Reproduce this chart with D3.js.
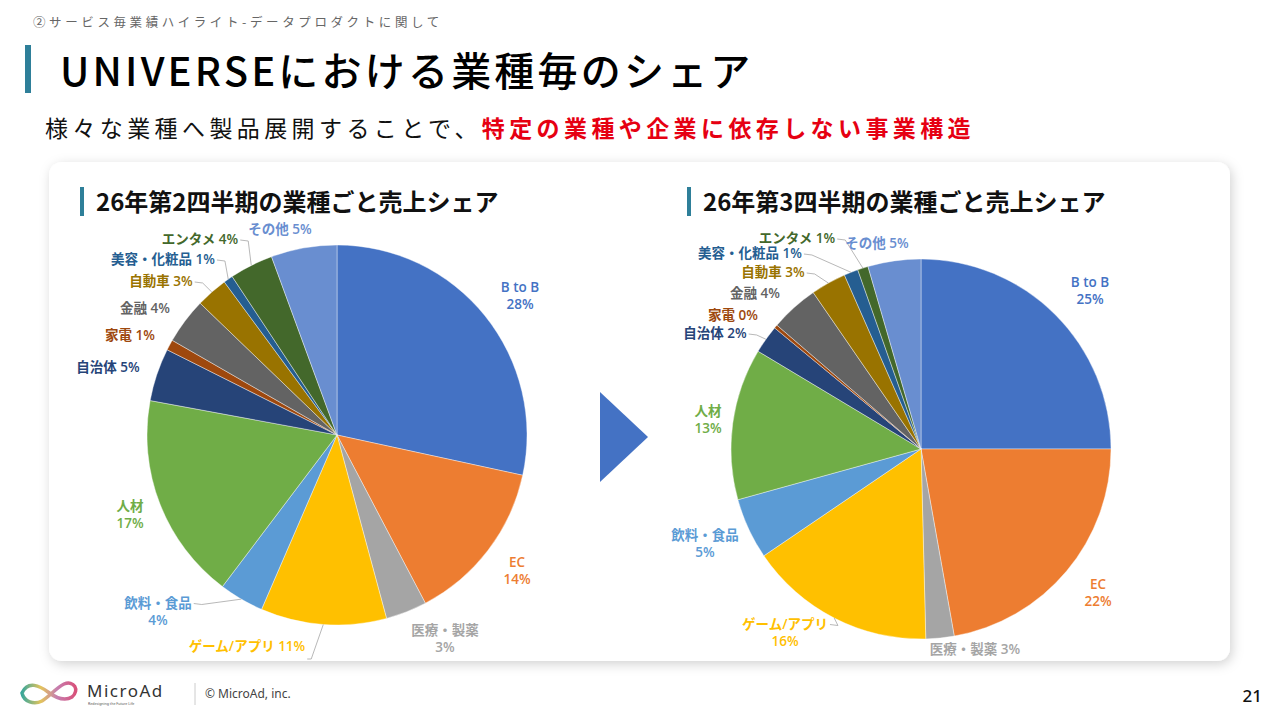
<!DOCTYPE html>
<html lang="ja">
<head>
<meta charset="UTF-8">
<title>UNIVERSE 業種毎のシェア</title>
<script src="https://cdn.jsdelivr.net/npm/d3@7"></script>
<style>
  html, body { margin: 0; padding: 0; background: #fff; }
  svg { display: block; font-family: "Noto Sans CJK JP", "Noto Sans", sans-serif; }
</style>
</head>
<body>
<div id="vis"></div>
<script>

// categories in clockwise order from 12 o'clock
var categories = ["B to B", "EC", "医療・製薬", "ゲーム/アプリ", "飲料・食品", "人材",
                  "自治体", "家電", "金融", "自動車", "美容・化粧品", "エンタメ", "その他"];

// shares (%)
var q2Values = [28.4, 13.9, 3.5, 10.7, 3.8, 17.6, 4.5, 0.9, 3.9, 2.7, 0.8, 3.7, 5.6];
var q3Values = [25.0, 22.2, 2.4, 15.9, 5.2, 12.9, 2.4, 0.3, 4.1, 3.0, 1.2, 0.9, 4.5];

// percentages as printed on the labels
var q2Pct = ["28%", "14%", "3%", "11%", "4%", "17%", "5%", "1%", "4%", "3%", "1%", "4%", "5%"];
var q3Pct = ["25%", "22%", "3%", "16%", "5%", "13%", "2%", "0%", "4%", "3%", "1%", "1%", "5%"];

var colors = ["#4472C4", "#ED7D31", "#A5A5A5", "#FFC000", "#5B9BD5", "#70AD47",
              "#264478", "#9E480E", "#636363", "#997300", "#255E91", "#43682B", "#698ED0"];

var width = 1280, height = 720;
var radius = 190;

// label placement (offset from pie centre, one/two lines, leader line)
var q2Layout = {
  cx: 337, cy: 435,
  labels: [
    {dx: 183, dy: -140, two: true},
    {dx: 180, dy: 135, two: true},
    {dx: 108, dy: 203, two: true},
    {dx: -90, dy: 211, leader: "up"},
    {dx: -179, dy: 176, two: true, leader: "line1"},
    {dx: -207, dy: 79, two: true},
    {dx: -229, dy: -68},
    {dx: -207, dy: -100},
    {dx: -192, dy: -127},
    {dx: -176, dy: -154, leader: "side"},
    {dx: -174, dy: -176, leader: "side"},
    {dx: -137, dy: -196, leader: "side"},
    {dx: -57, dy: -206}
  ]
};
var q3Layout = {
  cx: 921, cy: 449,
  labels: [
    {dx: 169, dy: -159, two: true},
    {dx: 177, dy: 143, two: true},
    {dx: 54, dy: 200},
    {dx: -136, dy: 183, two: true, leader: "line1"},
    {dx: -216, dy: 94, two: true},
    {dx: -213, dy: -30, two: true},
    {dx: -206, dy: -116, leader: "side"},
    {dx: -188, dy: -134},
    {dx: -166, dy: -156},
    {dx: -148, dy: -177, leader: "side"},
    {dx: -171, dy: -196, leader: "side"},
    {dx: -124, dy: -211, leader: "side"},
    {dx: -44, dy: -206}
  ]
};

var svg = d3.select("#vis").append("svg")
    .attr("width", width)
    .attr("height", height);

var defs = svg.append("defs");
var shadow = defs.append("filter").attr("id", "shadow")
    .attr("x", "-5%").attr("y", "-5%").attr("width", "110%").attr("height", "115%");
shadow.append("feDropShadow")
    .attr("dx", 2).attr("dy", 3).attr("stdDeviation", 6)
    .attr("flood-color", "#000").attr("flood-opacity", 0.18);

var grad = defs.append("linearGradient").attr("id", "logoGrad")
    .attr("x1", "0%").attr("x2", "100%").attr("y1", "0%").attr("y2", "0%");
grad.append("stop").attr("offset", "0%").attr("stop-color", "#3aa79a");
grad.append("stop").attr("offset", "35%").attr("stop-color", "#e3c45c");
grad.append("stop").attr("offset", "65%").attr("stop-color", "#c67fb0");
grad.append("stop").attr("offset", "100%").attr("stop-color", "#d8517a");

// ---- header
svg.append("text")
    .attr("x", 33).attr("y", 27)
    .attr("font-size", 12.5)
    .attr("letter-spacing", 3.6)
    .attr("fill", "#666")
    .text("②サービス毎業績ハイライト-データプロダクトに関して");

svg.append("rect")
    .attr("x", 25).attr("y", 45).attr("width", 6).attr("height", 48)
    .attr("fill", "#2E7F99");

svg.append("text")
    .attr("x", 60).attr("y", 86)
    .attr("font-size", 40)
    .attr("font-weight", 500)
    .attr("letter-spacing", 3.2)
    .attr("fill", "#000")
    .text("UNIVERSEにおける業種毎のシェア");

var sub = svg.append("text")
    .attr("x", 45).attr("y", 137)
    .attr("font-size", 23)
    .attr("letter-spacing", 4.4)
    .attr("fill", "#111");
sub.append("tspan").text("様々な業種へ製品展開することで、");
sub.append("tspan").attr("fill", "#E60012").attr("font-weight", 700)
    .text("特定の業種や企業に依存しない事業構造");

// ---- card
svg.append("rect")
    .attr("x", 49).attr("y", 162).attr("width", 1181).attr("height", 499)
    .attr("rx", 13)
    .attr("fill", "#fff")
    .attr("filter", "url(#shadow)");

// arrow between the pies
svg.append("path")
    .attr("d", d3.line()([[600, 392], [648, 437], [600, 482]]) + "Z")
    .attr("fill", "#4472C4");

function chartTitle(x, text) {
    svg.append("rect")
        .attr("x", x).attr("y", 187).attr("width", 4).attr("height", 29)
        .attr("fill", "#2E7F99");
    svg.append("text")
        .attr("x", x + 16).attr("y", 211)
        .attr("font-size", 24)
        .attr("font-weight", 700)
        .attr("fill", "#111")
        .text(text);
}
chartTitle(80, "26年第2四半期の業種ごと売上シェア");
chartTitle(687, "26年第3四半期の業種ごと売上シェア");

function drawPie(values, pct, layout) {
    var pie = d3.pie().sort(null).value(function(d) { return d; });
    var arcs = pie(values);
    var arc = d3.arc().innerRadius(0).outerRadius(radius);

    var g = svg.append("g")
        .attr("transform", "translate(" + layout.cx + "," + layout.cy + ")");

    g.selectAll(".slice")
        .data(arcs)
        .enter()
        .append("path")
        .attr("class", "slice")
        .attr("d", arc)
        .attr("fill", function(d, i) { return colors[i]; })
        .attr("stroke", "#fff")
        .attr("stroke-width", 0.4);

    var lineGen = d3.line();

    function label(x, y, txt, i) {
        return g.append("text")
            .attr("x", x).attr("y", y)
            .attr("text-anchor", "middle")
            .attr("font-family", "'Open Sans', 'Noto Sans CJK JP', sans-serif")
            .attr("font-size", 13.5)
            .attr("font-weight", 600)
            .attr("fill", colors[i])
            .text(txt);
    }

    arcs.forEach(function(d, i) {
        var L = layout.labels[i];
        var y0, first;
        if (L.two) {
            y0 = L.dy - 3.5;
            first = label(L.dx, y0, categories[i], i);
            label(L.dx, y0 + 17, pct[i], i);
        } else {
            y0 = L.dy + 5;
            first = label(L.dx, y0, categories[i] + " " + pct[i], i);
        }

        if (L.leader) {
            var mid = (d.startAngle + d.endAngle) / 2;
            var px = Math.sin(mid) * radius, py = -Math.cos(mid) * radius;
            var w = first.node().getComputedTextLength();
            var sx = L.dx + w / 2 + 2;
            var pts;
            if (L.leader === "up") {
                var by = y0 + 8;
                pts = [[sx, by], [sx + 4, by], [px, py]];
            } else {
                var sy = y0 - 4;
                pts = [[sx, sy], [sx + 8, sy + 1], [px, py]];
            }
            g.append("path")
                .attr("d", lineGen(pts))
                .attr("fill", "none")
                .attr("stroke", "#A6A6A6")
                .attr("stroke-width", 0.8);
        }
    });
}

drawPie(q2Values, q2Pct, q2Layout);
drawPie(q3Values, q3Pct, q3Layout);

// ---- footer
var logo = svg.append("g");
logo.append("path")
    .attr("d", "M22,693 C28,680 40,686 48,692 C56,698 64,702 72,697 C80,690 74,680 64,684 C56,688 50,696 42,701 C34,705 24,702 22,693 Z")
    .attr("fill", "none")
    .attr("stroke", "url(#logoGrad)")
    .attr("stroke-width", 3.5);

svg.append("text")
    .attr("x", 87).attr("y", 697)
    .attr("font-family", "Noto Sans, sans-serif")
    .attr("font-size", 17)
    .attr("letter-spacing", 1.5)
    .attr("fill", "#333")
    .text("MicroAd");
svg.append("text")
    .attr("x", 88).attr("y", 705)
    .attr("font-family", "Noto Sans, sans-serif")
    .attr("font-size", 3.6)
    .attr("fill", "#555")
    .text("Redesigning the Future Life");

svg.append("line")
    .attr("x1", 195).attr("x2", 195).attr("y1", 683).attr("y2", 705)
    .attr("stroke", "#ccc");

svg.append("text")
    .attr("x", 205).attr("y", 698)
    .attr("font-family", "Noto Sans, sans-serif")
    .attr("font-size", 12)
    .attr("fill", "#444")
    .text("© MicroAd, inc.");

svg.append("text")
    .attr("x", 1262).attr("y", 702)
    .attr("text-anchor", "end")
    .attr("font-family", "Noto Sans, sans-serif")
    .attr("font-size", 17)
    .attr("font-weight", 500)
    .attr("fill", "#111")
    .text("21");

</script>
</body>
</html>
